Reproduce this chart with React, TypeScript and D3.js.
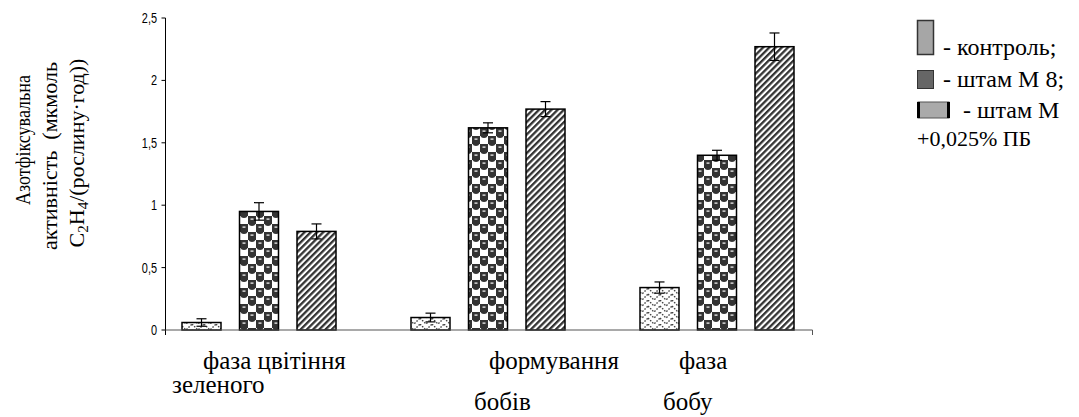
import React from "react";
import * as d3 from "d3";

const groups = ["g1", "g2", "g3"];
const series = ["control", "m8", "mpb"];
const values = [
  [0.06, 0.95, 0.79],
  [0.1, 1.62, 1.77],
  [0.34, 1.4, 2.27],
];
const errors = [
  [0.03, 0.07, 0.06],
  [0.035, 0.04, 0.06],
  [0.045, 0.04, 0.11],
];
const yTicks = [0, 0.5, 1, 1.5, 2, 2.5];
const yTickLabels = ["0", "0,5", "1", "1,5", "2", "2,5"];
const legendLabels = ["- контроль;", "- штам М 8;", "- штам М"];

const W = 1079;
const H = 417;

const serifStyle = { fontFamily: '"Liberation Serif", "Times New Roman", serif', whiteSpace: "pre" as const };
const sansStyle = { fontFamily: '"Liberation Sans", Arial, sans-serif' };

export default function App() {
  const y = d3.scaleLinear().domain([0, 2.5]).range([330, 18]);
  const x0 = d3.scaleBand().domain(groups).range([144.5, 831.5]);
  const x1 = d3
    .scaleBand()
    .domain(series)
    .range([37.5, 191.5])
    .paddingInner(1 - 39 / 57.5);
  const fills = ["url(#pCtrl)", "url(#pM8)", "url(#pStripe)"];
  const axisLeft = 165.5;
  const axisRight = 812.5;

  return (
    <svg width={W} height={H} style={{ display: "block", position: "absolute", left: 0, top: 0 }}>
      <defs>
        <pattern id="pCtrl" width="12" height="12" patternUnits="userSpaceOnUse">
          <rect width="12" height="12" fill="#fff" />
          <path d="M0,0 L6,6 L12,0 M0,6 L6,12 L12,6" stroke="#444" strokeWidth="1.4" strokeDasharray="1.6 1.4" fill="none" />
        </pattern>
        <pattern id="pM8" width="16" height="16" patternUnits="userSpaceOnUse">
          <rect width="16" height="16" fill="#fff" />
          <rect x="0" y="0" width="8" height="8" fill="#333" />
          <rect x="8" y="8" width="8" height="8" fill="#333" />
          <circle cx="4" cy="6.5" r="3.6" fill="#333" />
          <circle cx="12" cy="14.5" r="3.6" fill="#333" />
          <circle cx="12" cy="-1.5" r="3.6" fill="#333" />
          <rect x="2.5" y="2.5" width="3" height="1.2" fill="#fff" />
          <rect x="10.5" y="10.5" width="3" height="1.2" fill="#fff" />
        </pattern>
        <pattern id="pStripe" width="4.4" height="4.4" patternUnits="userSpaceOnUse" patternTransform="rotate(45)">
          <rect width="4.4" height="4.4" fill="#fff" />
          <rect width="2.3" height="4.4" fill="#333" />
        </pattern>
      </defs>

      {/* y axis title */}
      <text
        transform="translate(30,140) rotate(-90)"
        textAnchor="middle"
        style={serifStyle}
        fontSize={22}
        textLength={130}
        lengthAdjust="spacingAndGlyphs"
        fill="#000"
      >
        Азотфіксувальна
      </text>
      <text
        transform="translate(57,156) rotate(-90)"
        textAnchor="middle"
        style={serifStyle}
        fontSize={22}
        textLength={188}
        lengthAdjust="spacingAndGlyphs"
        fill="#000"
      >
        активність  (мкмоль
      </text>
      <text
        transform="translate(84,153) rotate(-90)"
        textAnchor="middle"
        style={serifStyle}
        fontSize={22}
        fill="#000"
      >
        <tspan>C</tspan>
        <tspan fontSize={15} dy={4}>2</tspan>
        <tspan dy={-4}>H</tspan>
        <tspan fontSize={15} dy={4}>4</tspan>
        <tspan dy={-4}>/(рослину·год))</tspan>
      </text>

      {/* y axis */}
      <line x1={axisLeft} x2={axisLeft} y1={y(2.5)} y2={y(0) + 5} stroke="#000" strokeWidth={1} />
      {yTicks.map((t, i) => (
        <g key={t}>
          <line x1={axisLeft - 4} x2={axisLeft} y1={y(t)} y2={y(t)} stroke="#000" />
          <text
            transform={`translate(157,${y(t)}) scale(0.78,1)`}
            dy="0.36em"
            textAnchor="end"
            style={sansStyle}
            fontSize={14}
            fill="#000"
          >
            {yTickLabels[i]}
          </text>
        </g>
      ))}

      {/* bars */}
      {groups.map((g, gi) =>
        series.map((s, si) => {
          const bx = (x0(g) ?? 0) + (x1(s) ?? 0);
          const bw = x1.bandwidth();
          const v = values[gi][si];
          const e = errors[gi][si];
          const cx = bx + bw / 2;
          return (
            <g key={g + s}>
              <rect
                x={bx}
                y={y(v)}
                width={bw}
                height={y(0) - y(v)}
                fill={fills[si]}
                stroke="#000"
                strokeWidth={1.5}
              />
              <line x1={cx} x2={cx} y1={y(v + e)} y2={y(v - e)} stroke="#000" strokeWidth={1.2} />
              <line x1={cx - 5} x2={cx + 5} y1={y(v + e)} y2={y(v + e)} stroke="#000" strokeWidth={1.2} />
              <line x1={cx - 5} x2={cx + 5} y1={y(v - e)} y2={y(v - e)} stroke="#000" strokeWidth={1.2} />
            </g>
          );
        })
      )}

      {/* x axis */}
      <line x1={axisLeft} x2={axisRight} y1={y(0)} y2={y(0)} stroke="#555" strokeWidth={1.2} />
      <line x1={axisRight} x2={axisRight} y1={y(0)} y2={y(0) + 5} stroke="#555" strokeWidth={1} />

      {/* category labels */}
      <g style={serifStyle} fontSize={25} fill="#000">
        <text x={203} y={369}>фаза цвітіння</text>
        <text x={172} y={393}>зеленого</text>
        <text x={489} y={369}>формування</text>
        <text x={474} y={410}>бобів</text>
        <text x={679} y={369}>фаза</text>
        <text x={663} y={410}>бобу</text>
      </g>

      {/* legend */}
      <rect x={917.5} y={20.5} width={16} height={34} fill="#a6a6a6" stroke="#333" strokeWidth={1.5} />
      <rect x={917.5} y={70.5} width={16} height={18} fill="#666" stroke="#333" strokeWidth={1} />
      <rect x={918} y={102} width={31} height={16} fill="#aaa" stroke="#555" strokeWidth={1} />
      <line x1={918.5} x2={918.5} y1={102} y2={118} stroke="#000" strokeWidth={3} />
      <line x1={948.5} x2={948.5} y1={102} y2={118} stroke="#000" strokeWidth={3} />
      <g style={serifStyle} fontSize={24} fill="#000">
        <text x={943} y={55}>{legendLabels[0]}</text>
        <text x={943} y={87}>{legendLabels[1]}</text>
        <text x={963} y={118}>{legendLabels[2]}</text>
        <text x={917} y={146} fontSize={22}>+0,025% ПБ</text>
      </g>
    </svg>
  );
}
